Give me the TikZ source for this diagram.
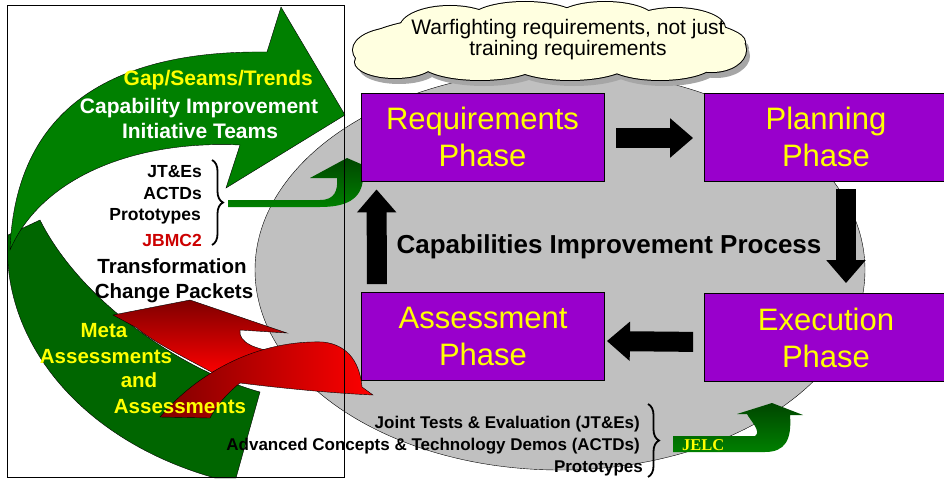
\documentclass[tikz,border=0pt]{standalone}
\usepackage{fontspec}
\setmainfont{Liberation Sans}
\newfontfamily\jelcfont{Liberation Serif}
\usetikzlibrary{decorations.pathreplacing,positioning,calc,shapes.symbols,arrows.meta}

\definecolor{phasepurple}{RGB}{153,0,204}
\definecolor{phaseyellow}{RGB}{255,255,0}
\definecolor{ovalgray}{RGB}{192,192,192}
\definecolor{cloudcream}{RGB}{255,255,224}
\definecolor{teamgreen}{RGB}{0,128,0}
\definecolor{bandgreen}{RGB}{0,102,0}
\definecolor{darkgreen}{RGB}{0,70,0}
\definecolor{jbmcred}{RGB}{204,0,0}

\tikzset{
	phase/.style={draw=black, thick, fill=phasepurple, text=phaseyellow, minimum width=243pt, minimum height=88pt, align=center, inner sep=0pt, font=\fontsize{31}{37}\selectfont},
	flow/.style={line width=20pt, -{Triangle[width=38pt,length=23pt]}},
	teamtext/.style={font=\bfseries\fontsize{21}{24}\selectfont, inner sep=0pt},
	listtext/.style={font=\bfseries\fontsize{17.5}{20}\selectfont, inner sep=0pt},
	biglabel/.style={font=\bfseries\fontsize{20.5}{24}\selectfont, inner sep=0pt},
	metatext/.style={font=\bfseries\fontsize{20.5}{24}\selectfont, text=phaseyellow, inner sep=0pt},
	bottomtext/.style={font=\bfseries\fontsize{17}{20}\selectfont, inner sep=0pt, anchor=base east},
	bracket/.style={line width=1.8pt, decorate, decoration={brace, amplitude=11pt}}
}
\def\puffs{395/50/42/22, 450/28/50/22, 525/20/55/18, 605/20/50/18, 675/28/50/20, 712/50/34/22,
	660/62/55/18, 570/62/60/18, 480/62/60/18, 395/62/40/16, 555/42/190/32}

\begin{document}
\begin{tikzpicture}[x=1pt,y=-1pt]
	\useasboundingbox (0,0) rectangle (944,479);
	% process oval
	\draw[fill=ovalgray] (560,270) ellipse [x radius=305, y radius=200];

	% big green arrow, lower band then upper part
	\filldraw[fill=bandgreen, draw=black] (8,235) .. controls (0,340) and (80,440) .. (215,478) -- (236,478) -- (260,392)
		.. controls (180,370) and (80,300) .. (40,220) -- cycle;
	\filldraw[fill=teamgreen, draw=black] (10,250) .. controls (15,110) and (110,50) .. (267,52) -- (281,7) -- (345,115) -- (226,188) -- (240,145)
		.. controls (130,140) and (40,180) .. (10,250) -- cycle;

	% red ribbons
	\shade[top color=red!50!black, bottom color=red, draw=black] (113,315) -- (190,300) -- (287,333) -- (240,330)
		.. controls (238,342) and (255,350) .. (280,352) -- (217,375) .. controls (180,355) and (150,340) .. (137,328) -- cycle;
	\shade[left color=red!50!black, right color=red, draw=black] (160,417) .. controls (200,370) and (260,340) .. (323,342)
		.. controls (350,345) and (360,365) .. (362,387) -- (373,395) .. controls (330,393) and (280,388) .. (240,383)
		.. controls (225,395) and (215,408) .. (210,418) -- cycle;

	% small green arrows
	\shade[top color=darkgreen, bottom color=teamgreen] (228,200) -- (320,200) .. controls (335,200) and (338,190) .. (337,178) -- (310,178) -- (347,158)
		-- (393,178) -- (363,178) .. controls (362,200) and (345,207) .. (320,207) -- (228,207) -- cycle;
	\shade[top color=darkgreen, bottom color=teamgreen] (673,436) -- (755,436) .. controls (762,432) and (750,420) .. (747,414) -- (737,414) -- (772,403)
		-- (803,415) -- (790,415) .. controls (792,440) and (785,452) .. (765,452) -- (673,452) -- cycle;

	% texts on the green arrow
	\node[teamtext, text=phaseyellow, anchor=base east] (gap) at (313,85) {Gap/Seams/Trends};
	\node[teamtext, text=white, anchor=base] (cap) at (199,113) {Capability Improvement};
	\node[teamtext, text=white, anchor=base] (teams) at (200,138) {Initiative Teams};

	\node[listtext, anchor=base east] (jte) at (202,177) {JT\&Es};
	\node[listtext, anchor=base east] (actd) at (202,199) {ACTDs};
	\node[listtext, anchor=base east] (proto) at (201,220) {Prototypes};
	\node[listtext, anchor=base east, text=jbmcred] (jbmc) at (202,246) {JBMC2};
	\draw[bracket] (212,160) -- (212,245);

	\node[biglabel, anchor=base] (trans) at (172,273) {Transformation};
	\node[biglabel, anchor=base] (change) at (174,298) {Change Packets};

	\node[metatext, anchor=base] (meta) at (104,337) {Meta};
	\node[metatext, anchor=base] (assess1) at (106,363) {Assessments};
	\node[metatext, anchor=base] (and) at (139,387) {and};
	\node[metatext, anchor=base] (assess2) at (180,413) {Assessments};

	% left frame
	\draw[thick] (7,5) rectangle (344,477);

	% cloud: shadow, outline, then fill
	\foreach \cx/\cy/\rx/\ry in \puffs
		\fill[gray!70] (\cx+4,\cy+6) ellipse [x radius=\rx, y radius=\ry];
	\foreach \cx/\cy/\rx/\ry in \puffs
		\draw[line width=2pt] (\cx,\cy) ellipse [x radius=\rx, y radius=\ry];
	\foreach \cx/\cy/\rx/\ry in \puffs
		\fill[cloudcream] (\cx,\cy) ellipse [x radius=\rx, y radius=\ry];
	\node[align=center, font=\fontsize{21}{21}\selectfont, inner sep=0pt] (wish) at (568,40) {Warfighting requirements, not just\\training requirements};

	% phases
	\node[phase] (req) at (482.5,137) {Requirements\\Phase};
	\node[phase] (plan) at (826,137) {Planning\\Phase};
	\node[phase] (assess) at (483,336.5) {Assessment\\Phase};
	\node[phase] (exec) at (826,337.5) {Execution\\Phase};

	\draw[flow, shorten <=12pt, shorten >=11pt] ($(req.east)+(0,1)$) -- ($(plan.west)+(0,1)$);
	\draw[flow, shorten <=8pt, shorten >=10pt] ($(plan.south)+(20,0)$) -- ($(exec.north)+(20,0)$);
	\draw[flow, shorten <=11pt, shorten >=2pt] ($(exec.west)+(0,4.5)$) -- ($(assess.east)+(0,4.5)$);
	\draw[flow, shorten <=8pt, shorten >=8pt] ($(assess.north)+(-106,0)$) -- ($(req.south)+(-106,0)$);

	\node[font=\bfseries\fontsize{26}{28}\selectfont, anchor=base, inner sep=0pt] (cip) at (609,253) {Capabilities Improvement Process};

	% bottom list and JELC
	\node[bottomtext] (jtlong) at (640,428) {Joint Tests \& Evaluation (JT\&Es)};
	\node[bottomtext] (actdlong) at (640,450) {Advanced Concepts \& Technology Demos (ACTDs)};
	\node[bottomtext] (protolong) at (643,472) {Prototypes};
	\draw[bracket] (648,404) -- (648,477);
	\node[font=\jelcfont\bfseries\fontsize{16.5}{18}\selectfont, text=phaseyellow, anchor=base west, inner sep=0pt] (jelc) at (682,450) {JELC};
\end{tikzpicture}
\end{document}
